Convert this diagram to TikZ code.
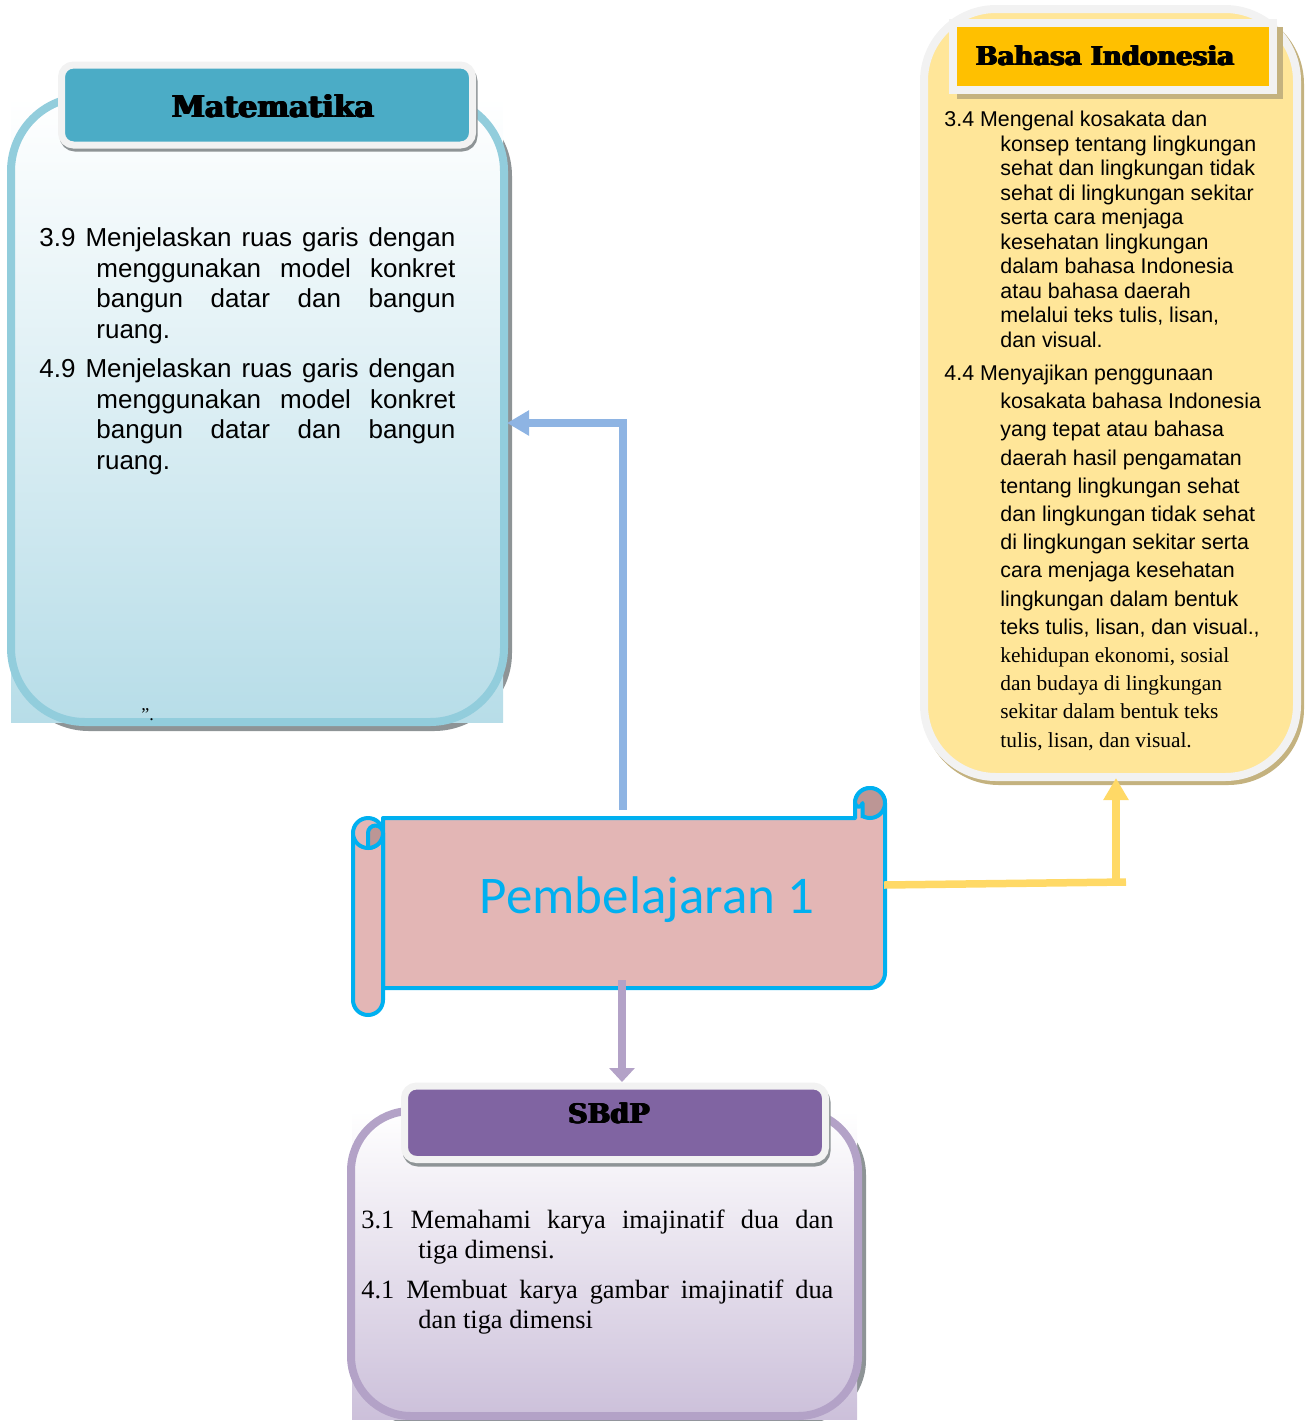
\documentclass[tikz,border=0pt]{standalone}
\usepackage{fontspec}
\setmainfont{Liberation Sans}
\newfontfamily\tnr{Liberation Serif}
\newfontfamily\hdr{DejaVu Serif}
\newfontfamily\carlfont{Carlito}
\usetikzlibrary{arrows.meta}
\newcommand\heavytext[1]{\rlap{#1}\kern.3pt\rlap{#1}\kern.3pt\rlap{#1}\kern.3pt#1}

\definecolor{mborder}{HTML}{92CDDC}
\definecolor{mfill}{HTML}{B7DDE8}
\definecolor{mhead}{HTML}{4BACC6}
\definecolor{hborder}{HTML}{F2F2F2}
\definecolor{shd}{HTML}{8E9496}
\definecolor{yfill}{HTML}{FFE699}
\definecolor{yhead}{HTML}{FFC000}
\definecolor{ytan}{HTML}{C4B27F}
\definecolor{sborder}{HTML}{B3A2C7}
\definecolor{sfill}{HTML}{CCC0DA}
\definecolor{shead}{HTML}{8064A2}
\definecolor{scrfill}{HTML}{E3B6B5}
\definecolor{scrdark}{HTML}{BC9695}
\definecolor{scrline}{HTML}{00B0F0}
\definecolor{barrow}{HTML}{8EB4E3}
\definecolor{yarrow}{HTML}{FFD966}
\definecolor{parrow}{HTML}{B3A2C7}

\tikzset{
  bigframe/.style={line width=4pt},
  headframe/.style={draw=hborder, line width=3.5pt},
  scrollpart/.style={draw=scrline, line width=2pt, fill=scrfill},
  curlpart/.style={draw=scrline, line width=2pt, fill=scrdark},
  link/.style={line width=3.75pt},
  ahead/.style={-{Triangle[width=12pt,length=11pt]}},
  bodytext/.style={inner sep=0pt, anchor=north west, align=left, text=black},
  headtext/.style={anchor=base, inner sep=0pt, text=black},
}

\begin{document}
\begin{tikzpicture}[x=0.5pt,y=-0.5pt]
\useasboundingbox (0,0) rectangle (1309,1421);

% ---------------- Matematika box
\filldraw[shd, line width=4pt, rounded corners=37pt] (15,102) rectangle (508,727);
\shade[top color=white, bottom color=mfill] (11,97) rectangle (503,722);
\draw[mborder, bigframe, rounded corners=37pt] (11,97) rectangle (504,722);
\filldraw[shd, line width=3.5pt, rounded corners=6pt] (63,69) rectangle (474,148);
\filldraw[headframe, fill=mhead, rounded corners=6pt] (61.5,65) rectangle (472.5,145);
\node[headtext, font=\hdr\bfseries\fontsize{15}{18}\selectfont] (mathhead) at (273,117) {\heavytext{Matematika}};

\node[bodytext, font=\fontsize{13}{15.4}\selectfont] (m39) at (39,227)
 {\makebox[208pt][s]{3.9 Menjelaskan ruas garis dengan}\\
  \hspace*{28.5pt}\makebox[179.5pt][s]{menggunakan model konkret}\\
  \hspace*{28.5pt}\makebox[179.5pt][s]{bangun datar dan bangun}\\
  \hspace*{28.5pt}ruang.};
\node[bodytext, font=\fontsize{13}{15.4}\selectfont] (m49) at (39,358)
 {\makebox[208pt][s]{4.9 Menjelaskan ruas garis dengan}\\
  \hspace*{28.5pt}\makebox[179.5pt][s]{menggunakan model konkret}\\
  \hspace*{28.5pt}\makebox[179.5pt][s]{bangun datar dan bangun}\\
  \hspace*{28.5pt}ruang.};
\node[inner sep=0pt, anchor=base west, font=\tnr\fontsize{9}{9}\selectfont] (quote) at (141,720) {”.};

% ---------------- Bahasa Indonesia box
\draw[ytan, line width=4pt, rounded corners=36pt] (927,12) rectangle (1300,781);
\filldraw[draw=hborder, fill=yfill, bigframe, rounded corners=36pt] (924,9) rectangle (1297,777);
\fill[ytan] (957,27) rectangle (1283,99);
\filldraw[headframe, line width=4pt, fill=yhead] (953,23) rectangle (1273,90);
\node[headtext, font=\hdr\bfseries\fontsize{13}{16}\selectfont] (bhshead) at (1105,65) {\heavytext{Bahasa Indonesia}};

\node[bodytext, font=\fontsize{10.7}{12.25}\selectfont] (b34) at (944,111)
 {3.4 Mengenal kosakata dan\\
  \hspace*{28pt}konsep tentang lingkungan\\
  \hspace*{28pt}sehat dan lingkungan tidak\\
  \hspace*{28pt}sehat di lingkungan sekitar\\
  \hspace*{28pt}serta cara menjaga\\
  \hspace*{28pt}kesehatan lingkungan\\
  \hspace*{28pt}dalam bahasa Indonesia\\
  \hspace*{28pt}atau bahasa daerah\\
  \hspace*{28pt}melalui teks tulis, lisan,\\
  \hspace*{28pt}dan visual.};
\node[bodytext, font=\fontsize{10.7}{14.1}\selectfont] (b44) at (944,364.5)
 {4.4 Menyajikan penggunaan\\
  \hspace*{28pt}kosakata bahasa Indonesia\\
  \hspace*{28pt}yang tepat atau bahasa\\
  \hspace*{28pt}daerah hasil pengamatan\\
  \hspace*{28pt}tentang lingkungan sehat\\
  \hspace*{28pt}dan lingkungan tidak sehat\\
  \hspace*{28pt}di lingkungan sekitar serta\\
  \hspace*{28pt}cara menjaga kesehatan\\
  \hspace*{28pt}lingkungan dalam bentuk\\
  \hspace*{28pt}teks tulis, lisan, dan visual.,\\
  \hspace*{28pt}{\tnr kehidupan ekonomi, sosial}\\
  \hspace*{28pt}{\tnr dan budaya di lingkungan}\\
  \hspace*{28pt}{\tnr sekitar dalam bentuk teks}\\
  \hspace*{28pt}{\tnr tulis, lisan, dan visual.}};

% ---------------- SBdP box
\filldraw[shd, line width=4pt, rounded corners=30pt] (355,1115) rectangle (862,1420);
\shade[top color=white, bottom color=sfill] (352,1111) rectangle (857,1419);
\draw[sborder, bigframe, rounded corners=30pt] (351,1111) rectangle (858,1416);
\filldraw[shd, line width=3.5pt, rounded corners=6pt] (406,1090) rectangle (827,1163);
\filldraw[headframe, fill=shead, rounded corners=6pt] (404.5,1086) rectangle (825.5,1159.5);
\node[headtext, font=\hdr\bfseries\fontsize{13.5}{16}\selectfont] (sbdphead) at (609,1123) {\heavytext{SBdP}};

\node[bodytext, font=\tnr\fontsize{13.2}{15}\selectfont] (s31) at (361,1209)
 {\makebox[236pt][s]{3.1 Memahami karya imajinatif dua dan}\\
  \hspace*{28.5pt}tiga dimensi.};
\node[bodytext, font=\tnr\fontsize{13.2}{15}\selectfont] (s41) at (361,1279)
 {\makebox[236pt][s]{4.1 Membuat karya gambar imajinatif dua}\\
  \hspace*{28.5pt}dan tiga dimensi};

% ---------------- Scroll "Pembelajaran 1"
\node[inner sep=0pt, minimum width=266pt, minimum height=113.5pt] (scroll) at (619,901.5) {};
\draw[scrollpart, line join=round] (383,818) -- (855,818) -- (855,803)
   arc[start angle=180, end angle=0, radius=7.5pt] -- (885,973)
   arc[start angle=0, end angle=-90, radius=7.5pt] -- (383,988) -- cycle;
\draw[curlpart] (870,803) circle[radius=7.5pt];
\draw[scrollpart, line join=round] (855,818) -- (855,803)
   arc[start angle=180, end angle=360, radius=1.9pt] -- (862.6,818);
\draw[scrollpart, line join=round] (353,833) -- (353,1000)
   arc[start angle=180, end angle=360, radius=7.5pt] -- (383,833) -- cycle;
\draw[scrollpart] (368,833) circle[radius=7.5pt];
\draw[curlpart, line join=round] (368,848) -- (368,833)
   arc[start angle=180, end angle=0, radius=3.75pt]
   arc[start angle=0, end angle=-90, radius=7.5pt] -- cycle;
\node[anchor=base, inner sep=0pt, text=scrline, font=\carlfont\fontsize{26.5}{30}\selectfont] (pbtext) at (647,913) {Pembelajaran 1};

% ---------------- connectors
\coordinate (pbtop) at (623,810);
\coordinate (mathin) at (507,423);
\coordinate (pbright) at (884,885);
\coordinate (ycorner) at (1126,882);
\coordinate (ybase) at (1116,880);
\coordinate (bhsin) at (1116,778);
\coordinate (pbbottom) at (622,980);
\coordinate (sbdpin) at (622,1082);

\draw[link, barrow, ahead] (pbtop) |- (mathin);
\draw[link, yarrow] (pbright) -- (ycorner);
\draw[link, yarrow, ahead] (ybase) -- (bhsin);
\draw[link, parrow, -{Triangle[width=12.5pt,length=7pt]}] (pbbottom) -- (sbdpin);
\end{tikzpicture}
\end{document}
